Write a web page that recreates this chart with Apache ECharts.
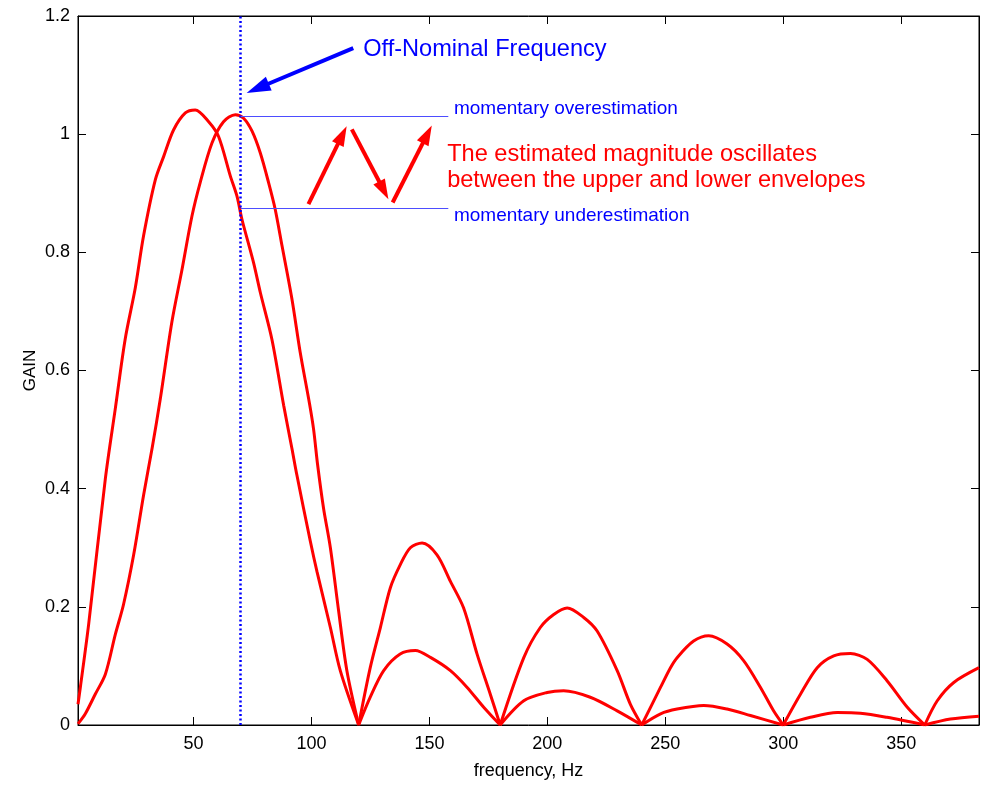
<!DOCTYPE html>
<html>
<head>
<meta charset="utf-8">
<script src="https://cdn.jsdelivr.net/npm/echarts@6/dist/echarts.min.js"></script>
<style>
html,body{margin:0;padding:0;background:#fff;}
#chart{width:982px;height:785px;}
</style>
</head>
<body>
<div id="chart"></div>
<script>
// ---- data ----
// Envelope A: main lobe peaking near 50 Hz, larger side lobes
const freqA = [1, 2, 5.5, 12.6, 16.8, 21, 25.3, 28.8, 33.8, 37.3, 41.5, 46.5, 50.7, 56.4, 60.6, 65.6, 68.4, 70.5, 75.4, 78.3, 83.2, 88.2, 91.7, 93.8, 99.5, 102.3, 108, 112.2, 120,
  124.9, 129.2, 133.4, 137.6, 141.9, 146.9, 153.2, 158.9, 164.5, 170.2, 175.8, 180,
  190, 197, 202.7, 208.4, 215.4, 221.1, 229.6, 235.2, 240,
  248, 252.2, 255, 262, 268.4, 276.2, 283.2, 290.3, 295.9, 300,
  307.3, 314.4, 321.4, 328.5, 335.6, 344, 352.6, 360,
  365.3, 372.3, 383];
const gainA = [0.035, 0.064, 0.17, 0.417, 0.535, 0.653, 0.74, 0.828, 0.923, 0.962, 1.007, 1.036, 1.041, 1.021, 0.996, 0.929, 0.895, 0.856, 0.783, 0.732, 0.653, 0.541, 0.468, 0.423, 0.311, 0.26, 0.165, 0.092, 0,
  0.097, 0.165, 0.232, 0.271, 0.3, 0.308, 0.288, 0.243, 0.198, 0.12, 0.052, 0,
  0.114, 0.165, 0.187, 0.198, 0.182, 0.159, 0.092, 0.035, 0,
  0.064, 0.097, 0.114, 0.142, 0.151, 0.137, 0.109, 0.064, 0.024, 0,
  0.052, 0.097, 0.117, 0.121, 0.111, 0.075, 0.03, 0,
  0.041, 0.072, 0.097];
// Envelope B: main lobe peaking near 67 Hz, smaller side lobes
const freqB = [1, 4.1, 8.3, 12.6, 16.8, 20.3, 24.6, 28.8, 32.4, 35.9, 40.8, 45.1, 49.3, 52.8, 57.8, 62.7, 67.7, 71.2, 74.8, 78.3, 81.8, 84.6, 87.5, 91.7, 95.2, 99.2, 100.9, 102.6, 105.1, 108, 111.5, 115, 120,
  124.9, 130.6, 137.6, 144, 150.6, 158.9, 165.9, 173, 180,
  190, 199.9, 206.9, 218.2, 229.6, 240,
  248, 255, 266.3, 276.2, 286.1, 300,
  311.5, 322.9, 332.7, 344, 360,
  370.9, 383];
const gainB = [0.002, 0.019, 0.052, 0.086, 0.153, 0.204, 0.288, 0.389, 0.468, 0.552, 0.682, 0.771, 0.861, 0.918, 0.985, 1.021, 1.033, 1.027, 1.005, 0.968, 0.918, 0.873, 0.811, 0.721, 0.631, 0.543, 0.5, 0.44, 0.367, 0.3, 0.193, 0.092, 0,
  0.047, 0.092, 0.12, 0.126, 0.114, 0.092, 0.064, 0.03, 0,
  0.041, 0.055, 0.058, 0.047, 0.024, 0,
  0.019, 0.027, 0.033, 0.027, 0.016, 0,
  0.013, 0.021, 0.02, 0.013, 0,
  0.01, 0.015];

const xTicks = [50, 100, 150, 200, 250, 300, 350];
const xMin = 1, xMax = 383;
const yMin = 0, yMax = 1.2, yStep = 0.2;

// annotations (data coordinates)
const offNominalFreq = 70;
const overLevel = 1.03, underLevel = 0.875, levelLineEnd = 158;
const blueArrow = [[117.7, 1.1456], [72.5, 1.0698]];
const redArrows = [
  [[98.7, 0.8815], [114.9, 1.0135]],
  [[117.1, 1.008], [132.6, 0.890]],
  [[134.4, 0.8843], [151.0, 1.0147]]
];
const labelOffNominal = {text: 'Off-Nominal Frequency', at: [121.9, 1.144]};
const labelOver = {text: 'momentary overestimation', at: [160.4, 1.043]};
const labelUnder = {text: 'momentary underestimation', at: [160.4, 0.862]};
const labelRed = [
  {text: 'The estimated magnitude oscillates', at: [157.5, 0.966]},
  {text: 'between the upper and lower envelopes', at: [157.5, 0.921]}
];

const FONT = '"Liberation Sans", Arial, Helvetica, sans-serif';
const chart = echarts.init(document.getElementById('chart'));

const tickCommon = {inside: true, length: 8, lineStyle: {color: '#000', width: 1}};

// build line data; break the line after each zero (cusp) so that each lobe is smoothed on its own
function lobes(xs, ys) {
  const out = [];
  xs.forEach((x, i) => {
    out.push([x, ys[i]]);
    if (ys[i] === 0 && i > 0 && i < xs.length - 1) { out.push('-'); out.push([x, ys[i]]); }
  });
  return out;
}

const BLUE_HEAD = [15, 24], RED_HEAD = [13, 20];

const baseOption = {
  animation: false,
  backgroundColor: '#fff',
  grid: {left: 78, right: 3, top: 16, bottom: 57, show: true, borderColor: '#000', borderWidth: 1, containLabel: false},
  xAxis: [
    {
      type: 'value', min: xMin, max: xMax, position: 'bottom',
      axisLine: {show: true, onZero: false, lineStyle: {color: '#000', width: 1}},
      axisTick: Object.assign({customValues: xTicks}, tickCommon),
      axisLabel: {customValues: xTicks, color: '#000', fontSize: 18, fontFamily: FONT, margin: 10},
      splitLine: {show: false},
      name: 'frequency, Hz', nameLocation: 'middle', nameGap: 37, nameMoveOverlap: false,
      nameTextStyle: {color: '#000', fontSize: 18, fontFamily: FONT}
    },
    {
      type: 'value', min: xMin, max: xMax, position: 'top',
      axisLine: {show: true, onZero: false, lineStyle: {color: '#000', width: 1}},
      axisTick: Object.assign({customValues: xTicks}, tickCommon),
      axisLabel: {show: false},
      splitLine: {show: false}
    }
  ],
  yAxis: [
    {
      type: 'value', min: yMin, max: yMax, interval: yStep, position: 'left',
      axisLine: {show: true, onZero: false, lineStyle: {color: '#000', width: 1}},
      axisTick: tickCommon,
      axisLabel: {color: '#000', fontSize: 18, fontFamily: FONT, margin: 8},
      splitLine: {show: false},
      name: 'GAIN', nameLocation: 'middle', nameGap: 39, nameMoveOverlap: false,
      nameTextStyle: {color: '#000', fontSize: 17, fontFamily: FONT}
    },
    {
      type: 'value', min: yMin, max: yMax, interval: yStep, position: 'right',
      axisLine: {show: true, onZero: false, lineStyle: {color: '#000', width: 1}},
      axisTick: tickCommon,
      axisLabel: {show: false},
      splitLine: {show: false}
    }
  ],
  series: [
    {
      name: 'envelope A', type: 'line', xAxisIndex: 0, yAxisIndex: 0,
      data: lobes(freqA, gainA), showSymbol: false, symbol: 'none', smooth: 0.3, connectNulls: false,
      lineStyle: {color: '#ff0000', width: 3}, z: 3
    },
    {
      name: 'envelope B', type: 'line', xAxisIndex: 0, yAxisIndex: 0,
      data: lobes(freqB, gainB), showSymbol: false, symbol: 'none', smooth: 0.3, connectNulls: false,
      lineStyle: {color: '#ff0000', width: 3}, z: 3
    }
  ]
};
chart.setOption(baseOption);

function P(c) { return chart.convertToPixel({xAxisIndex: 0, yAxisIndex: 0}, c); }
function D(p) { return chart.convertFromPixel({xAxisIndex: 0, yAxisIndex: 0}, p); }
// the arrow head is centred on the line end: pull the end back by half the head length so the tip lands on the data point
function arrowLine(a, head, color, width) {
  const s = P(a[0]), e = P(a[1]);
  const dx = e[0] - s[0], dy = e[1] - s[1], len = Math.hypot(dx, dy);
  const k = (head[1] / 2) / len;
  const e2 = D([e[0] - dx * k, e[1] - dy * k]);
  return [{coord: a[0], symbol: 'none', lineStyle: {color: color, width: width, type: 'solid'}, itemStyle: {color: color}, symbolSize: head},
          {coord: e2, symbol: 'triangle', symbolSize: head}];
}
function textEl(lbl, size, color) {
  const p = P(lbl.at);
  return {type: 'text', x: p[0], y: p[1], silent: true, z: 10,
    style: {text: lbl.text, fill: color, fontSize: size, fontFamily: FONT, textAlign: 'left', textVerticalAlign: 'middle'}};
}

chart.setOption({
  series: [
    {
      markLine: {
        silent: true, symbol: ['none', 'none'], animation: false, label: {show: false},
        data: [
          [{coord: [offNominalFreq, yMin], lineStyle: {color: '#0000ff', width: 2.5, type: [2, 2.5]}}, {coord: [offNominalFreq, yMax]}],
          [{coord: [offNominalFreq, overLevel], lineStyle: {color: '#4d4dff', width: 1, type: 'solid'}}, {coord: [levelLineEnd, overLevel]}],
          [{coord: [offNominalFreq, underLevel], lineStyle: {color: '#4d4dff', width: 1, type: 'solid'}}, {coord: [levelLineEnd, underLevel]}]
        ]
      }
    },
    {
      markLine: {
        silent: true, symbol: ['none', 'triangle'], symbolSize: RED_HEAD, animation: false, label: {show: false},
        data: [arrowLine(blueArrow, BLUE_HEAD, '#0000ff', 4)]
          .concat(redArrows.map(a => arrowLine(a, RED_HEAD, '#ff0000', 4)))
      }
    }
  ],
  graphic: [
    textEl(labelOffNominal, 23.6, '#0000ff'),
    textEl(labelOver, 19, '#0000ff'),
    textEl(labelUnder, 19, '#0000ff'),
    textEl(labelRed[0], 23.6, '#ff0000'),
    textEl(labelRed[1], 23.6, '#ff0000')
  ]
});
</script>
</body>
</html>
